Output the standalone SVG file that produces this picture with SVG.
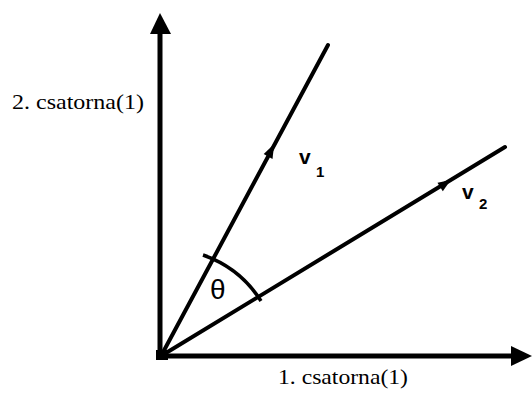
<svg xmlns="http://www.w3.org/2000/svg" width="532" height="394" viewBox="0 0 532 394">
<style>
.axis{stroke:#000;stroke-width:5;fill:none}
.vec{stroke:#000;stroke-width:4;fill:none;stroke-linecap:round}
.head{fill:#000}
.lbl{font-family:'Liberation Serif','Times New Roman',serif;font-size:22px;fill:#000}
.sym{font-family:'Liberation Sans',Arial,sans-serif;fill:#000;font-weight:bold}
</style>
<rect width="532" height="394" fill="#fff"/>
<g id="connectors">
<g id="y-axis">
<line class="axis" x1="160" y1="358" x2="160" y2="30"/>
<polygon class="head" points="160,13 150,34 171,34"/>
</g>
<g id="x-axis">
<line class="axis" x1="158" y1="356" x2="514" y2="356"/>
<polygon class="head" points="532,356 511,346 511,366"/>
</g>
<g id="v1-line">
<line class="vec" x1="161" y1="356" x2="328" y2="45"/>
<polygon class="head" points="274.2,144.1 272.5,158.9 263.7,154.1"/>
</g>
<g id="v2-line">
<line class="vec" x1="161" y1="356" x2="505" y2="147"/>
<polygon class="head" points="450.7,180.0 442.8,191.2 437.5,182.7"/>
</g>
<path id="angle-arc" d="M 261 301 A 112 112 0 0 0 203 255" stroke="#000" stroke-width="3.5" fill="none"/>
<rect x="156" y="350" width="12" height="10" fill="#000"/>
</g>
<g id="label-y"><text class="lbl" x="12" y="109" textLength="132" lengthAdjust="spacingAndGlyphs">2. csatorna(1)</text></g>
<g id="label-x"><text class="lbl" x="278" y="384" textLength="130" lengthAdjust="spacingAndGlyphs">1. csatorna(1)</text></g>
<g id="label-v1"><text class="sym" x="299" y="164" font-size="21">v</text><text class="sym" x="316" y="177" font-size="15">1</text></g>
<g id="label-v2"><text class="sym" x="462" y="199" font-size="21">v</text><text class="sym" x="479" y="209" font-size="15">2</text></g>
<g id="label-theta"><text x="210" y="299" font-size="28" font-family="Liberation Sans, Arial, sans-serif">θ</text></g>
</svg>
